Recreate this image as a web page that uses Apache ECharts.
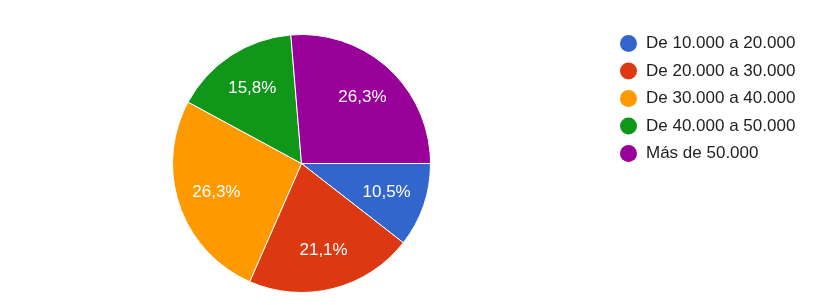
<!DOCTYPE html>
<html>
<head>
<meta charset="utf-8">
<script src="https://cdn.jsdelivr.net/npm/echarts@6/dist/echarts.min.js"></script>
<style>html,body{margin:0;padding:0;background:#fff;}#c{width:817px;height:305px;}</style>
</head>
<body>
<div id="c"></div>
<script>
var categories = ['De 10.000 a 20.000', 'De 20.000 a 30.000', 'De 30.000 a 40.000', 'De 40.000 a 50.000', 'Más de 50.000'];
var values = [2, 4, 5, 3, 5];
var colors = ['#3366cc', '#dc3912', '#ff9900', '#109618', '#990099'];

var chart = echarts.init(document.getElementById('c'));
var data = categories.map(function (n, i) { return { name: n, value: values[i], itemStyle: { color: colors[i] } }; });
var total = values.reduce(function (a, b) { return a + b; }, 0);
function fmt(p) { return (p.value / total * 100).toFixed(1).replace('.', ',') + '%'; }

chart.setOption({
  animation: false,
  legend: {
    orient: 'vertical',
    left: 620,
    top: 35,
    padding: 0,
    itemWidth: 17,
    itemHeight: 17,
    itemGap: 10.5,
    icon: 'circle',
    itemStyle: { borderWidth: 0 },
    data: categories,
    textStyle: { fontFamily: 'Liberation Sans, Arial, sans-serif', fontSize: 17, color: '#222', lineHeight: 17, padding: [0, 0, 0, 4] }
  },
  series: [
    {
      type: 'pie',
      center: [301.5, 163.5],
      radius: [0, 129],
      startAngle: 0,
      clockwise: true,
      label: { show: false },
      labelLine: { show: false },
      itemStyle: { borderColor: '#fff', borderWidth: 1 },
      emphasis: { disabled: true },
      data: data
    },
    {
      type: 'pie',
      center: [301.5, 163.5],
      radius: [45, 129],
      startAngle: 0,
      clockwise: true,
      silent: true,
      legendHoverLink: false,
      itemStyle: { color: 'rgba(0,0,0,0)', borderWidth: 0 },
      label: {
        show: true,
        position: 'inside',
        formatter: fmt,
        color: '#fff',
        fontFamily: 'Liberation Sans, Arial, sans-serif',
        fontSize: 17
      },
      labelLine: { show: false },
      emphasis: { disabled: true },
      data: values.map(function (v, i) { return { name: categories[i], value: v }; })
    }
  ]
});
</script>
</body>
</html>
